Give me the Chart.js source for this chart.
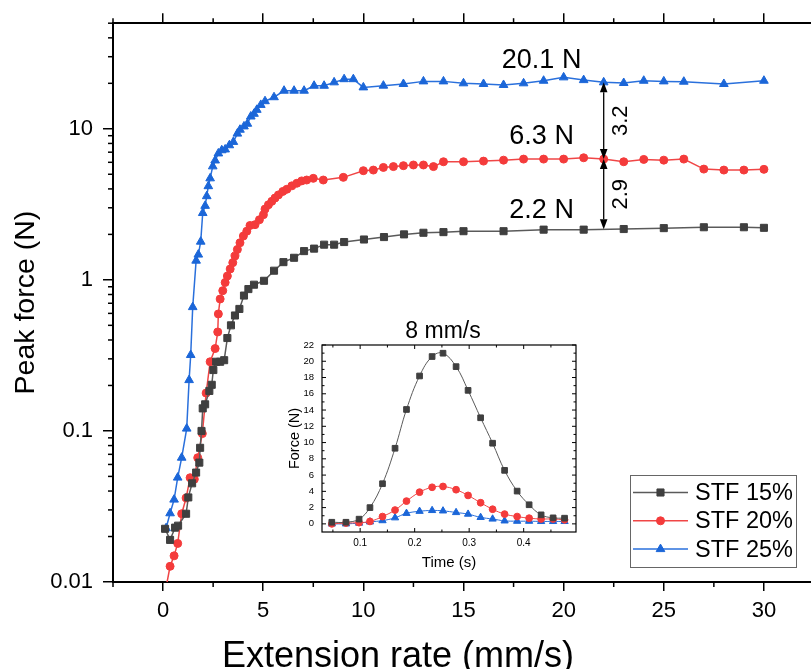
<!DOCTYPE html>
<html><head><meta charset="utf-8">
<script src="https://cdn.jsdelivr.net/npm/chart.js@4"></script>
<style>
html,body{margin:0;padding:0;overflow:hidden;background:#fff;width:811px;height:669px}
#wrap{position:relative;width:811px;height:669px;overflow:hidden}
#main{position:absolute;left:0;top:0}
#inset{position:absolute;left:280px;top:310px}
</style></head><body>
<div id="wrap"><canvas id="main" width="830" height="669"></canvas><canvas id="inset" width="310" height="270"></canvas></div>
<script>
// ---------- main chart data ----------
const rate15 = [0.1,0.35,0.6,0.75,1.15,1.26,1.45,1.65,1.81,1.85,1.92,1.98,2.10,2.31,2.43,2.51,2.65,2.85,3.05,3.21,3.39,3.59,3.81,4.04,4.26,4.54,5.04,5.54,6.01,6.54,7.04,7.54,8.04,8.54,9.04,10.03,11.03,12.03,13,14,15,17,19,21,23,25,27,29,30];
const force15 = [0.0225,0.019,0.0229,0.0236,0.0283,0.0363,0.045,0.053,0.0617,0.0773,0.10,0.141,0.150,0.184,0.202,0.253,0.287,0.287,0.294,0.412,0.500,0.581,0.642,0.787,0.869,0.929,0.986,1.15,1.31,1.40,1.55,1.61,1.71,1.71,1.78,1.85,1.92,2.00,2.05,2.07,2.10,2.10,2.15,2.15,2.17,2.20,2.23,2.23,2.21];
const rate20 = [0.1,0.35,0.55,0.73,0.93,1.15,1.35,1.56,1.73,1.96,2.15,2.35,2.60,2.73,2.76,2.85,2.98,3.10,3.21,3.35,3.48,3.59,3.71,3.84,4.01,4.18,4.34,4.59,4.81,5.01,5.09,5.26,5.43,5.59,5.76,5.98,6.18,6.43,6.68,6.92,7.17,7.5,8,9,10,10.5,11,11.5,12,12.5,13,13.5,14,15,16,17,18,19,20,21,22,23,24,25,26,27,28,29,30];
const force20 = [0.0085,0.0127,0.0149,0.0180,0.0283,0.036,0.049,0.0479,0.0665,0.096,0.178,0.287,0.351,0.452,0.595,0.747,0.848,0.961,1.06,1.18,1.30,1.44,1.59,1.76,1.95,2.10,2.29,2.32,2.50,2.70,2.94,3.14,3.31,3.48,3.65,3.85,3.98,4.19,4.36,4.52,4.58,4.70,4.58,4.77,5.28,5.33,5.55,5.62,5.70,5.76,5.76,5.62,6.05,6.05,6.11,6.20,6.30,6.30,6.30,6.43,6.30,6.05,6.27,6.20,6.30,5.41,5.33,5.33,5.39];
const rate25 = [0.15,0.35,0.55,0.73,0.93,1.18,1.30,1.38,1.48,1.65,1.76,1.88,1.98,2.10,2.18,2.26,2.35,2.48,2.60,2.76,2.93,3.10,3.31,3.51,3.71,3.84,4.04,4.21,4.38,4.54,4.68,4.88,5.09,5.54,6.04,6.54,7.04,7.54,8.04,8.54,9.04,9.5,10,11,12,13,14,15,16,17,18,19,20,21,22,23,24,25,26,28,30];
const force25 = [0.0227,0.0285,0.0351,0.0491,0.0665,0.1036,0.217,0.318,0.66,1.34,1.47,1.79,2.77,3.09,3.58,4.17,4.70,5.64,6.17,6.87,7.21,7.3,7.78,8.19,9.29,9.86,10.37,10.8,12.06,12.57,13.35,14.39,15.23,16.18,17.87,17.87,17.87,19.27,19.27,20.3,21.3,21.3,18.8,19.3,19.8,20.6,20.6,20.0,19.8,19.5,20.0,20.8,21.9,21.0,20.3,20.1,20.8,20.6,20.5,19.8,20.8];
const seriesNames = ['STF 15%','STF 20%','STF 25%'];
const xTickValues = [0,5,10,15,20,25,30];
const yTickValues = [0.01,0.1,1,10];
const yTickLabels = ['0.01','0.1','1','10'];
const xTitle = 'Extension rate (mm/s)';
const yTitle = 'Peak force (N)';
// annotations
const peakLabels = ['20.1 N','6.3 N','2.2 N'];
const peakLabelX = [18.9,18.9,18.9];
const peakLabelY = [25.2,7.98,2.57];
const gapLabels = ['3.2','2.9'];
const gapAtRate = 22;
const gapFrom = [20.3,6.3];
const gapTo = [6.3,2.16];
// ---------- inset data ----------
const insetTitle = '8 mm/s';
const insetTime = [0.048,0.074,0.098,0.118,0.141,0.164,0.185,0.209,0.232,0.252,0.276,0.298,0.321,0.343,0.365,0.388,0.410,0.432,0.454,0.475];
const insetF15 = [0.2,0.2,0.58,2.0,4.94,9.3,14.07,18.19,20.58,20.99,19.34,16.42,13.05,9.92,6.58,4.03,2.35,1.11,0.74,0.70];
const insetF20 = [0.0,0.1,0.15,0.3,0.9,1.7,2.8,3.9,4.5,4.6,4.2,3.5,2.6,1.8,1.2,0.9,0.7,0.6,0.6,0.5];
const insetF25 = [0.0,0.0,0.1,0.25,0.4,0.75,1.3,1.55,1.65,1.6,1.4,1.2,0.8,0.6,0.37,0.33,0.33,0.3,0.3,0.3];
const insetXTicks = [0.1,0.2,0.3,0.4];
const insetYTicks = [0,2,4,6,8,10,12,14,16,18,20,22];

// ---------- styles ----------
const FONT = "'Liberation Sans', Arial, Helvetica, sans-serif";
Chart.defaults.font.family = FONT;
Chart.defaults.color = '#000';
const STY = [
  {line:'#5a5a5a', fill:'#3f3f3f', style:'rect', r:5, ri:4},
  {line:'#f04646', fill:'#f43b3b', style:'circle', r:4, ri:3.4},
  {line:'#2a70dc', fill:'#1b66d8', style:'triangle', r:5, ri:4.2}
];
const zip = (xs, ys) => xs.map((x, i) => ({x, y: ys[i]}));

function mkSet(i, xs, ys, inset) {
  const s = STY[i];
  return {
    label: seriesNames[i], data: zip(xs, ys),
    borderColor: s.line, backgroundColor: s.fill,
    pointBackgroundColor: s.fill, pointBorderColor: s.fill,
    pointStyle: s.style, pointRadius: inset ? s.ri : s.r, pointBorderWidth: 1,
    borderWidth: inset ? 1 : 1.5, tension: inset ? 0.4 : 0, fill: false
  };
}

// ---------- main decorations plugin ----------
const mainDecor = {
  id: 'mainDecor',
  afterDraw(chart) {
    const ctx = chart.ctx, xs = chart.scales.x, ys = chart.scales.y, ca = chart.chartArea;
    ctx.save();
    ctx.strokeStyle = '#000'; ctx.lineWidth = 1.5;
    // minor x ticks (bottom + top)
    for (let v = -2.5; v <= 32.5; v += 5) {
      const px = xs.getPixelForValue(v);
      ctx.beginPath(); ctx.moveTo(px, ca.bottom); ctx.lineTo(px, ca.bottom + 5); ctx.stroke();
      ctx.beginPath(); ctx.moveTo(px, ca.top); ctx.lineTo(px, ca.top - 5); ctx.stroke();
    }
    // minor y ticks
    for (let d = 0.01; d < 100; d *= 10) {
      for (let k = 2; k <= 9; k++) {
        const v = k * d;
        if (v > ys.max * 1.0001) break;
        const py = ys.getPixelForValue(v);
        ctx.beginPath(); ctx.moveTo(ca.left, py); ctx.lineTo(ca.left - 5, py); ctx.stroke();
      }
    }
    // peak labels
    ctx.fillStyle = '#000';
    ctx.font = '27px ' + FONT; ctx.textAlign = 'center'; ctx.textBaseline = 'alphabetic';
    peakLabels.forEach((t, i) => ctx.fillText(t, xs.getPixelForValue(peakLabelX[i]), ys.getPixelForValue(peakLabelY[i])));
    // double arrows
    const ax = xs.getPixelForValue(gapAtRate);
    const head = 10, hw = 3.8;
    ctx.lineWidth = 1.3;
    gapFrom.forEach((f, i) => {
      const y1 = ys.getPixelForValue(f), y2 = ys.getPixelForValue(gapTo[i]);
      ctx.beginPath(); ctx.moveTo(ax, y1 + head); ctx.lineTo(ax, y2 - head); ctx.stroke();
      ctx.beginPath(); ctx.moveTo(ax, y1); ctx.lineTo(ax - hw, y1 + head); ctx.lineTo(ax + hw, y1 + head); ctx.closePath(); ctx.fill();
      ctx.beginPath(); ctx.moveTo(ax, y2); ctx.lineTo(ax - hw, y2 - head); ctx.lineTo(ax + hw, y2 - head); ctx.closePath(); ctx.fill();
      // rotated label
      ctx.save();
      ctx.translate(ax + 23, (y1 + y2) / 2);
      ctx.rotate(-Math.PI / 2);
      ctx.font = '22px ' + FONT; ctx.textAlign = 'center'; ctx.textBaseline = 'alphabetic';
      ctx.fillText(gapLabels[i], 0, 0);
      ctx.restore();
    });
    // x title
    ctx.font = '36px ' + FONT; ctx.textAlign = 'center'; ctx.textBaseline = 'alphabetic';
    ctx.fillText(xTitle, 398, 667);
    // legend
    const lx = 630, ly = 475, lw = 166, lh = 92;
    ctx.fillStyle = '#fff'; ctx.fillRect(lx, ly, lw, lh);
    ctx.strokeStyle = '#666'; ctx.lineWidth = 1; ctx.strokeRect(lx + 0.5, ly + 0.5, lw, lh);
    chart.data.datasets.forEach((ds, i) => {
      const yy = 492.5 + i * 28.3;
      ctx.strokeStyle = ds.borderColor; ctx.lineWidth = 1.5;
      ctx.beginPath(); ctx.moveTo(633, yy); ctx.lineTo(688, yy); ctx.stroke();
      ctx.fillStyle = ds.pointBackgroundColor; ctx.strokeStyle = ds.pointBorderColor; ctx.lineWidth = 1;
      Chart.helpers.drawPoint(ctx, {pointStyle: ds.pointStyle, radius: ds.pointRadius, borderWidth: 1, rotation: 0}, 660.5, yy);
      ctx.fillStyle = '#000'; ctx.font = '23.5px ' + FONT; ctx.textAlign = 'left'; ctx.textBaseline = 'middle';
      ctx.fillText(ds.label, 695, yy + 1);
    });
    ctx.restore();
  }
};

const mainChart = new Chart(document.getElementById('main'), {
  type: 'line',
  data: { datasets: [mkSet(0, rate15, force15), mkSet(1, rate20, force20), mkSet(2, rate25, force25)] },
  options: {
    responsive: false, animation: false, devicePixelRatio: 1,
    layout: { padding: { left: 0, right: 16, top: 0, bottom: 0 } },
    plugins: { legend: { display: false }, tooltip: { enabled: false } },
    scales: {
      x: {
        type: 'linear', position: 'bottom', min: -2.5, max: 32.5,
        afterBuildTicks: s => { s.ticks = xTickValues.map(v => ({ value: v })); },
        ticks: { font: { size: 22 }, color: '#000', padding: 7, maxRotation: 0, callback: v => String(v) },
        grid: { display: true, drawOnChartArea: false, drawTicks: true, tickLength: 9, color: '#000', lineWidth: 1.5 },
        border: { display: true, color: '#000', width: 2 },
        afterFit: s => { s.height = 87; }
      },
      xTop: {
        type: 'linear', position: 'top', min: -2.5, max: 32.5,
        afterBuildTicks: s => { s.ticks = xTickValues.map(v => ({ value: v })); },
        ticks: { display: false },
        grid: { display: true, drawOnChartArea: false, drawTicks: true, tickLength: 10, color: '#000', lineWidth: 1.5 },
        border: { display: true, color: '#000', width: 2 },
        afterFit: s => { s.height = 19; }
      },
      y: {
        type: 'logarithmic', position: 'left', min: 0.01, max: 50,
        afterBuildTicks: s => { s.ticks = yTickValues.map(v => ({ value: v })); },
        ticks: { font: { size: 22 }, color: '#000', padding: 10, callback: (v) => yTickLabels[yTickValues.indexOf(v)] },
        grid: { display: true, drawOnChartArea: false, drawTicks: true, tickLength: 10, color: '#000', lineWidth: 1.5 },
        border: { display: true, color: '#000', width: 2 },
        title: { display: true, text: yTitle, font: { size: 28.5 }, color: '#000', padding: { top: 9, bottom: 0 } },
        afterFit: s => { s.width = 113; }
      }
    }
  },
  plugins: [mainDecor]
});

// ---------- inset ----------
const insetDecor = {
  id: 'insetDecor',
  afterDraw(chart) {
    const ctx = chart.ctx, xs = chart.scales.x, ys = chart.scales.y, ca = chart.chartArea;
    ctx.save();
    ctx.strokeStyle = '#000'; ctx.lineWidth = 1.2;
    ctx.strokeRect(ca.left, ca.top, ca.right - ca.left, ca.bottom - ca.top);
    ctx.lineWidth = 1;
    for (let k = 1; k <= 9; k++) {
      const v = k * 0.05; if (v < xs.min || v > xs.max) continue;
      const px = xs.getPixelForValue(v), L = (k % 2 === 0) ? 4 : 2.5;
      ctx.beginPath(); ctx.moveTo(px, ca.bottom); ctx.lineTo(px, ca.bottom - L); ctx.stroke();
      ctx.beginPath(); ctx.moveTo(px, ca.top); ctx.lineTo(px, ca.top + L); ctx.stroke();
    }
    for (let v = 0; v <= 22; v += 1) {
      const py = ys.getPixelForValue(v), L = (v % 2 === 0) ? 4 : 2.5;
      ctx.beginPath(); ctx.moveTo(ca.left, py); ctx.lineTo(ca.left + L, py); ctx.stroke();
      ctx.beginPath(); ctx.moveTo(ca.right, py); ctx.lineTo(ca.right - L, py); ctx.stroke();
    }
    ctx.fillStyle = '#000'; ctx.font = '23px ' + FONT; ctx.textAlign = 'center'; ctx.textBaseline = 'alphabetic';
    ctx.fillText(insetTitle, (ca.left + ca.right) / 2 - 6, 28);
    ctx.restore();
  }
};

const insetChart = new Chart(document.getElementById('inset'), {
  type: 'line',
  data: { datasets: [mkSet(0, insetTime, insetF15, true), mkSet(1, insetTime, insetF20, true), mkSet(2, insetTime, insetF25, true)] },
  options: {
    responsive: false, animation: false, devicePixelRatio: 1,
    layout: { padding: { left: 0, right: 14, top: 35, bottom: 0 } },
    plugins: { legend: { display: false }, tooltip: { enabled: false } },
    scales: {
      x: {
        type: 'linear', min: 0.03, max: 0.496,
        afterBuildTicks: s => { s.ticks = insetXTicks.map(v => ({ value: v })); },
        ticks: { font: { size: 10 }, color: '#000', padding: 5, maxRotation: 0, callback: v => v.toFixed(1) },
        grid: { display: false, drawTicks: false },
        border: { display: false },
        title: { display: true, text: 'Time (s)', font: { size: 15 }, color: '#000', padding: { top: 0, bottom: 8 } },
        afterFit: s => { s.height = 48; }
      },
      y: {
        type: 'linear', min: -1, max: 22,
        afterBuildTicks: s => { s.ticks = insetYTicks.map(v => ({ value: v })); },
        ticks: { font: { size: 9.5 }, color: '#000', padding: 8, callback: v => String(v) },
        grid: { display: false, drawTicks: false },
        border: { display: false },
        title: { display: true, text: 'Force (N)', font: { size: 14.5 }, color: '#000', padding: { top: 6, bottom: 0 } },
        afterFit: s => { s.width = 42; }
      }
    }
  },
  plugins: [insetDecor]
});
</script>
</body></html>
